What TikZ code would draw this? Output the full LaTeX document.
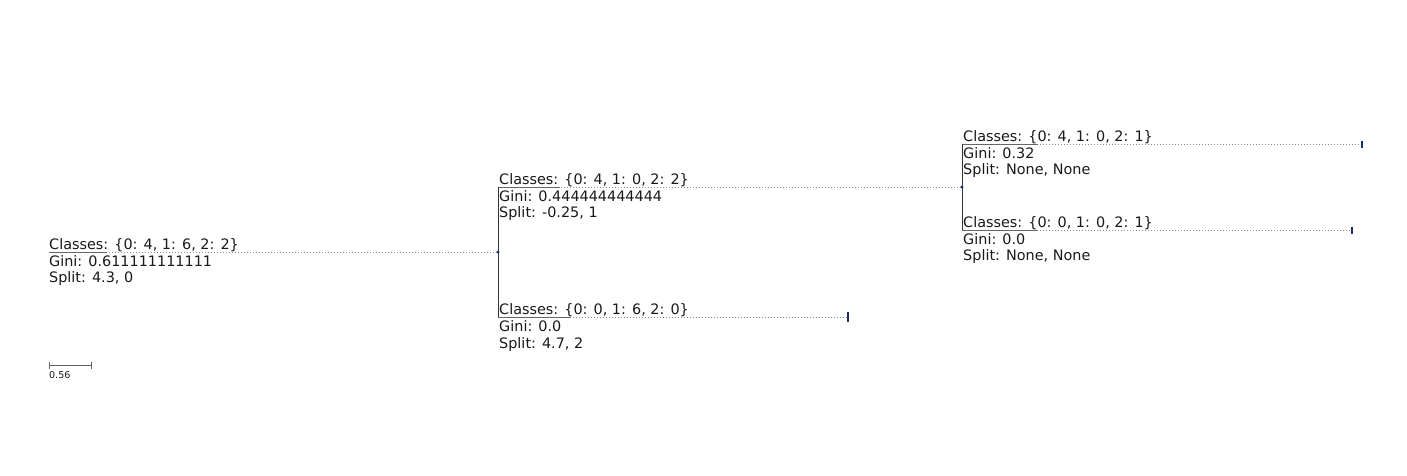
\documentclass[tikz,border=0pt]{standalone}
\usepackage{fontspec}
\setmainfont{DejaVu Sans}
\definecolor{navy}{HTML}{1F2A6B}
\begin{document}
\begin{tikzpicture}[x=1pt,y=-1pt,
  vline/.style={draw=black!80, line width=0.9pt},
  stem/.style={draw=black!60, line width=1pt},
  dots/.style={draw=black!45, line width=0.8pt, dash pattern=on 1pt off 2pt},
  facetext/.style={inner sep=0pt, anchor=base west, font=\fontsize{14.4}{16}\selectfont, text=black!90},
  leafmark/.style={draw=navy, line width=1.2pt},
  scalelbl/.style={inner sep=0pt, anchor=base west, font=\fontsize{9.5}{10}\selectfont, text=black!90}]
\useasboundingbox (0,0) rectangle (1407,476);
% branch points
\coordinate (rstart) at (49,252);
\coordinate (rend) at (498,252);
\coordinate (c1start) at (498,187);
\coordinate (c1end) at (962,187);
\coordinate (c2start) at (498,317);
\coordinate (c2end) at (848,317);
\coordinate (g1start) at (962,144);
\coordinate (g1end) at (1362,144);
\coordinate (g2start) at (962,230);
\coordinate (g2end) at (1352,230);
% horizontal branches
\draw[dots] (rstart) -- (rend);
\draw[dots] (c1start) -- (c1end);
\draw[dots] (c2start) -- (c2end);
\draw[dots] (g1start) -- (g1end);
\draw[dots] (g2start) -- (g2end);
\draw[stem] (rstart) -- ++(58,0);
\draw[stem] (c1start) -- ++(62,0);
\draw[stem] (c2start) -- ++(72,0);
\draw[stem] (g1start) -- ++(76,0);
\draw[stem] (g2start) -- ++(75,0);
% vertical connectors
\draw[vline] (c1start) -- (c2start);
\draw[vline] (g1start) -- (g2start);
% node dots
\fill[navy] (rend) circle (1.6pt);
\fill[navy] (c1end) circle (1.6pt);
% leaf marks
\draw[leafmark] ([yshift=5pt]c2end) -- ([yshift=-5pt]c2end);
\draw[leafmark] ([yshift=3.5pt]g1end) -- ([yshift=-3.5pt]g1end);
\draw[leafmark] ([yshift=3.5pt]g2end) -- ([yshift=-3.5pt]g2end);
% texts
\node[facetext] (rc) at (49,249) {Classes: \{0: 4, 1: 6, 2: 2\}};
\node[facetext] (rg) at (49,266.5) {Gini: 0.611111111111};
\node[facetext] (rs) at (49,282.5) {Split: 4.3, 0};
\node[facetext] (c1c) at (499,184) {Classes: \{0: 4, 1: 0, 2: 2\}};
\node[facetext] (c1g) at (499,201) {Gini: 0.444444444444};
\node[facetext] (c1s) at (499,217.5) {Split: -0.25, 1};
\node[facetext] (c2c) at (499,314.5) {Classes: \{0: 0, 1: 6, 2: 0\}};
\node[facetext] (c2g) at (499,331.5) {Gini: 0.0};
\node[facetext] (c2s) at (499,348) {Split: 4.7, 2};
\node[facetext] (g1c) at (963,141.5) {Classes: \{0: 4, 1: 0, 2: 1\}};
\node[facetext] (g1g) at (963,158) {Gini: 0.32};
\node[facetext] (g1s) at (963,174.5) {Split: None, None};
\node[facetext] (g2c) at (963,227.5) {Classes: \{0: 0, 1: 0, 2: 1\}};
\node[facetext] (g2g) at (963,244) {Gini: 0.0};
\node[facetext] (g2s) at (963,260.5) {Split: None, None};
% scale bar
\coordinate (sb1) at (49,365);
\coordinate (sb2) at (91,365);
\draw[stem] (sb1) -- (sb2);
\draw[stem] ([yshift=-3.5pt]sb1) -- ([yshift=3.5pt]sb1);
\draw[stem] ([yshift=-3.5pt]sb2) -- ([yshift=3.5pt]sb2);
\node[scalelbl] (sbl) at (49,378.5) {0.56};
\end{tikzpicture}
\end{document}
